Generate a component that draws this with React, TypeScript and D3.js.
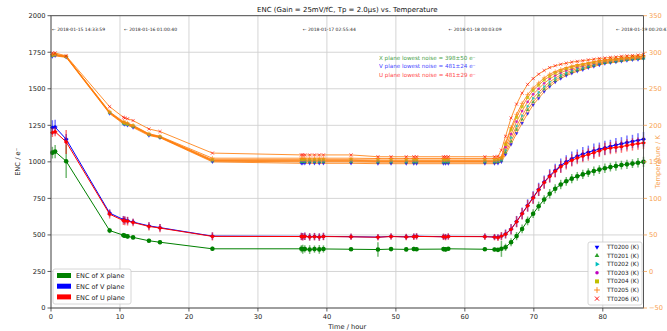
import React, { useEffect } from 'react';
import * as d3 from 'd3';

// time since start of run (hours)
const hours = [0.2, 0.6, 2.2, 8.5, 10.5, 10.7, 11.1, 11.9, 14.2, 15.8, 23.4,
  36.3, 36.5, 36.8, 37.5, 38.2, 38.9, 39.5, 43.5, 47.4, 49.3, 51.5, 52.6, 53.0, 56.9, 57.2, 57.6, 62.9, 64.3, 64.8, 65.3,
  65.9, 66.7, 67.5, 68.3, 69.1, 69.9, 70.7, 71.5, 72.3, 73.1, 73.9, 74.7, 75.5, 76.3, 77.1, 77.9, 78.7, 79.5, 80.3, 81.1, 81.9, 82.7, 83.5, 84.3, 85.1, 85.9];

const encX = [1063, 1070, 1004, 530, 498, 494, 490, 483, 460, 450, 405,
  405, 402, 404, 400, 403, 401, 404, 402, 400, 403, 401, 404, 402, 403, 401, 405, 402, 400, 398, 405,
  415, 450, 492, 541, 596, 645, 696, 742, 782, 816, 845, 867, 885, 901, 914, 926, 937, 947, 956, 964, 971, 978, 983, 988, 994, 1000];
const encV = [1235, 1238, 1155, 650, 605, 601, 598, 588, 562, 550, 492,
  490, 488, 491, 487, 489, 486, 490, 488, 485, 490, 487, 489, 491, 488, 486, 490, 489, 486, 484, 492,
  507, 540, 592, 647, 702, 757, 812, 862, 905, 942, 975, 1001, 1022, 1040, 1054, 1066, 1077, 1087, 1096, 1106, 1116, 1124, 1132, 1140, 1147, 1155];
const encU = [1200, 1206, 1136, 642, 598, 596, 594, 585, 558, 547, 490,
  489, 487, 490, 486, 488, 485, 489, 487, 484, 489, 486, 488, 490, 487, 485, 489, 488, 485, 481, 492,
  505, 538, 590, 645, 699, 753, 808, 858, 900, 935, 966, 990, 1010, 1026, 1039, 1050, 1062, 1075, 1088, 1094, 1099, 1104, 1112, 1119, 1125, 1130];

const errX = [40, 45, 115, 18, 16, 15, 15, 13, 13, 13, 15,
  25, 30, 25, 30, 25, 30, 25, 12, 50, 12, 12, 15, 12, 15, 15, 12, 12, 12, 12, 55,
  25, 28, 28, 30, 30, 30, 32, 30, 32, 30, 32, 30, 32, 30, 32, 30, 32, 30, 32, 30, 32, 30, 32, 30, 32, 35];
const errV = [50, 50, 35, 25, 25, 25, 25, 22, 25, 25, 25,
  25, 25, 25, 25, 25, 25, 25, 20, 20, 20, 20, 20, 20, 20, 20, 20, 20, 20, 20, 25,
  30, 35, 38, 40, 42, 42, 45, 45, 45, 45, 48, 45, 48, 45, 48, 45, 48, 45, 48, 45, 48, 45, 48, 45, 48, 50];
const errU = [30, 30, 82, 30, 30, 30, 30, 25, 28, 28, 28,
  25, 25, 25, 25, 25, 25, 25, 22, 22, 22, 22, 22, 22, 22, 22, 22, 22, 22, 22, 28,
  30, 35, 38, 40, 40, 42, 42, 42, 42, 42, 42, 42, 42, 42, 42, 42, 42, 42, 42, 42, 42, 42, 42, 42, 42, 42];

// temperature sensors (K)
const tt0200 = [294, 295, 293, 216, 202, 201, 200, 197, 186, 183, 150,
  148, 148, 148, 148, 148, 148, 148, 148, 147.5, 147.5, 147.5, 147.5, 147.5, 147.5, 147.5, 147.5, 147.5, 147.5, 148, 150,
  160, 174, 189, 203, 216, 228, 237, 246, 253, 259, 264, 268, 271, 274, 276, 278.5, 280.5, 282.5, 284.5, 285.5, 286.5, 287.5, 288.5, 289.5, 290, 291];
const tt0201 = [295, 296, 293.5, 217, 203, 202, 201, 198, 187, 183.5, 151,
  150, 150, 150, 150, 150, 150, 150, 150, 149.5, 149.5, 149.5, 149.5, 149.5, 149.5, 149.5, 149.5, 149.5, 149.5, 150, 152,
  163, 178, 194, 208, 221, 232, 241, 249.5, 256, 261.5, 266.5, 270, 273, 275.5, 277.5, 280, 282, 284, 285.5, 286.5, 287.5, 288.5, 289.5, 290.5, 291, 291.5];
const tt0202 = [295, 296, 294, 217, 203, 202, 201, 198.5, 187, 184, 151.5,
  151, 151, 151, 151, 151, 151, 151, 151, 150.5, 150.5, 150.5, 150.5, 150.5, 150.5, 150.5, 150.5, 150.5, 150.5, 151, 153,
  166, 183, 199, 213, 226, 237, 245, 253, 259.5, 264.5, 269, 272, 275, 277.5, 279, 281, 283, 285, 286.5, 287.5, 288.5, 289.5, 290, 291, 291.5, 292];
const tt0203 = [296, 296, 294, 217.5, 204, 203, 202, 199, 187.5, 184, 152,
  152, 152, 152, 152, 152, 152, 152, 152, 151.5, 151.5, 151.5, 151.5, 151.5, 151.5, 151.5, 151.5, 151.5, 151.5, 152, 154,
  170, 188, 205, 219.5, 232, 242.5, 250, 257.5, 263.5, 268, 272, 275, 277, 279.5, 281, 283, 284.5, 286, 287.5, 288.5, 289.5, 290.5, 291, 292, 292.5, 293.5];
const tt0204 = [296, 297, 294, 218, 204, 203, 202, 199.5, 188, 184.5, 153,
  153, 153, 153, 153, 153, 153, 153, 153, 152.5, 152.5, 152.5, 152.5, 152.5, 152.5, 152.5, 152.5, 152.5, 152.5, 153, 155,
  174, 194, 211, 225.5, 238, 248, 255, 262, 267, 271.5, 274.5, 277.5, 279.5, 281.5, 283, 284.5, 286, 287.5, 288.5, 289.5, 290.5, 291.5, 292, 293, 293.5, 294.5];
const tt0205 = [297, 297, 294.5, 218.5, 205, 204, 203, 200, 188.5, 185, 155,
  155, 155, 155, 155, 155, 155, 155, 155, 154.5, 154.5, 154.5, 154.5, 154.5, 154.5, 154.5, 154.5, 154.5, 154.5, 155, 157,
  176, 197, 215, 230, 242, 251, 258, 265, 270, 273.5, 276.5, 279, 281, 283, 284, 285.5, 287, 288.5, 289.5, 290.5, 291, 292, 292.5, 293.5, 294, 295];
const tt0206 = [299, 299, 295, 225.5, 211, 210, 209, 206.5, 195, 191.5, 162,
  159.5, 159.5, 159.5, 159.5, 159.5, 159.5, 159.5, 159.5, 157, 157, 157, 157, 157, 157, 157, 157, 157, 157, 157.5, 166,
  185, 210, 229, 244, 256, 264, 270, 275, 279, 281.5, 283.5, 285, 286.5, 287.5, 288.5, 289.5, 290.5, 291.5, 292, 293, 293.5, 294.5, 295, 295.5, 296, 297];

const sensorNames = ['TT0200 (K)', 'TT0201 (K)', 'TT0202 (K)', 'TT0203 (K)', 'TT0204 (K)', 'TT0205 (K)', 'TT0206 (K)'];
const encNames = ['ENC of X plane', 'ENC of V plane', 'ENC of U plane'];
const lowestNoise = ['X plane lowest noise = 398\u00b150 e\u207b', 'V plane lowest noise = 481\u00b124 e\u207b', 'U plane lowest noise = 481\u00b129 e\u207b'];

const markHours = [0, 10.44, 36.36, 57.49, 81.78];
const markLabels = ['\u2190 2018-01-15 14:33:59', '\u2190 2018-01-16 01:00:40', '\u2190 2018-01-17 02:55:44', '\u2190 2018-01-18 00:03:09', '\u2190 2018-01-19 00:20:43'];

const encTicks = [0, 250, 500, 750, 1000, 1250, 1500, 1750, 2000];
const tempTicks = [-50, 0, 50, 100, 150, 200, 250, 300, 350];

const W = 667, H = 331;
const L = 51, R = 643.5, T = 15.7, B = 308;
const FONT = 'DejaVu Sans, sans-serif';
const ORANGE = '#ff7f0e';
const ORANGE_TXT = '#f8a14f';

export default function App() {
  useEffect(() => {
    document.body.style.margin = '0';
  }, []);

  const x = d3.scaleLinear().domain([0, 85.9]).range([L, R]);
  const yE = d3.scaleLinear().domain([0, 2000]).range([B, T]);
  const yT = d3.scaleLinear().domain([-50, 350]).range([B, T]);

  const encSeries = [
    { vals: encX, err: errX, color: '#008000' },
    { vals: encV, err: errV, color: '#0000ff' },
    { vals: encU, err: errU, color: '#ff0000' },
  ];

  const tempSeries = [
    { vals: tt0200, color: '#0000ff', sym: d3.symbolTriangle, size: 6, rot: 180, stroke: false },
    { vals: tt0201, color: '#2ca02c', sym: d3.symbolTriangle, size: 6, rot: 0, stroke: false },
    { vals: tt0202, color: '#00bfbf', sym: d3.symbolTriangle, size: 6, rot: 90, stroke: false },
    { vals: tt0203, color: '#bf00bf', sym: d3.symbolCircle, size: 6, rot: 0, stroke: false },
    { vals: tt0204, color: '#bfbf00', sym: d3.symbolSquare, size: 10, rot: 0, stroke: false },
    { vals: tt0205, color: ORANGE, sym: d3.symbolPlus, size: 8, rot: 0, stroke: true },
    { vals: tt0206, color: '#ff0000', sym: d3.symbolTimes, size: 8, rot: 0, stroke: true },
  ];

  const encLine = (vals: number[]) =>
    d3.line<number>().x((_, i) => x(hours[i])).y((v) => yE(v))(vals) || '';
  const tempLine = (vals: number[]) =>
    d3.line<number>().x((_, i) => x(hours[i])).y((v) => yT(v))(vals) || '';

  const symPath = (s: any, k = 1) => d3.symbol(s.sym, s.size * k)() || '';

  const xTicks = x.ticks(10);

  return (
    <svg width={W} height={H} style={{ display: 'block', fontFamily: FONT }}>
      <rect x={0} y={0} width={W} height={H} fill="#fff" />
      {/* grid */}
      {xTicks.map((t) => (
        <line key={'gx' + t} x1={x(t)} x2={x(t)} y1={T} y2={B} stroke="#d0d0d0" strokeWidth={0.9} />
      ))}
      {encTicks.map((t) => (
        <line key={'gy' + t} x1={L} x2={R} y1={yE(t)} y2={yE(t)} stroke="#d0d0d0" strokeWidth={0.9} />
      ))}

      {/* ENC lines + error bars */}
      {encSeries.map((s, si) => (
        <g key={'enc' + si}>
          <path d={encLine(s.vals)} fill="none" stroke={s.color} strokeWidth={1} />
          {s.vals.map((v, i) => (
            <line key={i} x1={x(hours[i])} x2={x(hours[i])} y1={yE(v - s.err[i])} y2={yE(v + s.err[i])}
              stroke={s.color} strokeWidth={1.5} strokeOpacity={0.55} />
          ))}
          {s.vals.map((v, i) => (
            <line key={'h' + i} x1={x(hours[i]) - 2.2} x2={x(hours[i]) + 2.2} y1={yE(v)} y2={yE(v)}
              stroke={s.color} strokeWidth={1.5} strokeOpacity={si === 0 ? 0 : 0.6} />
          ))}
          {s.vals.map((v, i) => (
            <circle key={'c' + i} cx={x(hours[i])} cy={yE(v)} r={si === 0 ? 2.3 : 1.7} fill={s.color} />
          ))}
        </g>
      ))}

      {/* temperature lines */}
      {tempSeries.map((s, si) => (
        <path key={'tl' + si} d={tempLine(s.vals)} fill="none" stroke={ORANGE} strokeWidth={1} strokeOpacity={0.85} />
      ))}
      {tempSeries.map((s, si) => (
        <g key={'tm' + si}>
          {s.vals.map((v, i) => (
            <path key={i} d={symPath(s)}
              transform={`translate(${x(hours[i])},${yT(v)}) rotate(${s.rot})`}
              fill={s.stroke ? 'none' : s.color} stroke={s.stroke ? s.color : 'none'} strokeWidth={0.8} opacity={0.75} />
          ))}
        </g>
      ))}

      {/* date annotations */}
      {markHours.map((h, i) => (
        <text key={'m' + i} x={x(h) + 1} y={31} fontSize={4.5} fill="#222">{markLabels[i]}</text>
      ))}

      {/* lowest noise notes */}
      {lowestNoise.map((t, i) => (
        <text key={'n' + i} x={379} y={59.5 + i * 8.6} fontSize={5.6} fill={encSeries[i].color} opacity={0.75}>{t}</text>
      ))}

      {/* spines */}
      <rect x={L} y={T} width={R - L} height={B - T} fill="none" stroke="#444" strokeWidth={0.9} />

      {/* x axis */}
      {xTicks.map((t) => (
        <g key={'xt' + t}>
          <line x1={x(t)} x2={x(t)} y1={B} y2={B + 3.5} stroke="#333" strokeWidth={0.8} />
          <text x={x(t)} y={B + 11} fontSize={6.7} textAnchor="middle" fill="#222">{t}</text>
        </g>
      ))}
      <text x={(L + R) / 2} y={B + 21} fontSize={6.7} textAnchor="middle" fill="#222">Time / hour</text>

      {/* left axis */}
      {encTicks.map((t) => (
        <g key={'yt' + t}>
          <line x1={L - 3.5} x2={L} y1={yE(t)} y2={yE(t)} stroke="#333" strokeWidth={0.8} />
          <text x={L - 5.5} y={yE(t) + 2.4} fontSize={6.7} textAnchor="end" fill="#222">{t}</text>
        </g>
      ))}
      <text transform={`translate(20,${(T + B) / 2}) rotate(-90)`} fontSize={6.7} textAnchor="middle" fill="#222">ENC / e⁻</text>

      {/* right axis */}
      {tempTicks.map((t) => (
        <g key={'rt' + t}>
          <line x1={R} x2={R + 3.5} y1={yT(t)} y2={yT(t)} stroke={ORANGE_TXT} strokeWidth={0.8} />
          <text x={R + 5.5} y={yT(t) + 2.4} fontSize={6.7} textAnchor="start" fill={ORANGE_TXT}>{t < 0 ? '\u2212' + Math.abs(t) : t}</text>
        </g>
      ))}
      <text transform={`translate(660,${(T + B) / 2}) rotate(-90)`} fontSize={6.7} textAnchor="middle" fill={ORANGE_TXT}>Temperature / K</text>

      {/* title */}
      <text x={(L + R) / 2} y={11.5} fontSize={7} textAnchor="middle" fill="#111">ENC (Gain = 25mV/fC, Tp = 2.0μs) vs. Temperature</text>

      {/* ENC legend */}
      <rect x={53} y={269} width={78} height={35} rx={2} fill="#fff" fillOpacity={0.85} stroke="#ccc" strokeWidth={0.8} />
      {encNames.map((n, i) => (
        <g key={'le' + i}>
          <rect x={57} y={273 + i * 10.7} width={14} height={5} fill={encSeries[i].color} />
          <text x={76} y={278.2 + i * 10.7} fontSize={6.5} fill="#222">{n}</text>
        </g>
      ))}

      {/* sensor legend */}
      <rect x={588} y={242} width={54} height={63} rx={2} fill="#fff" fillOpacity={0.85} stroke="#ccc" strokeWidth={0.8} />
      {sensorNames.map((n, i) => (
        <g key={'ls' + i}>
          <path d={symPath(tempSeries[i], 1.6)} transform={`translate(597,${247 + i * 8.6}) rotate(${tempSeries[i].rot})`}
            fill={tempSeries[i].stroke ? 'none' : tempSeries[i].color} stroke={tempSeries[i].stroke ? tempSeries[i].color : 'none'} strokeWidth={0.9} />
          <text x={607} y={249 + i * 8.6} fontSize={5.8} fill="#222">{n}</text>
        </g>
      ))}
    </svg>
  );
}
